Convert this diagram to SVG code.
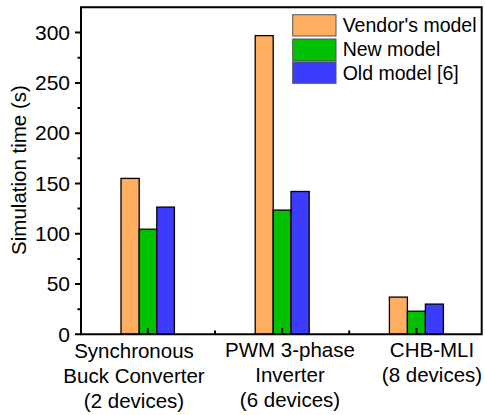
<svg xmlns="http://www.w3.org/2000/svg" width="485" height="415" viewBox="0 0 485 415">
<style>
text{font-family:"Liberation Sans",Arial,sans-serif;fill:#000}
.t{font-size:20.5px}
.tick{font-size:21px;text-anchor:end}
.lab{font-size:20.5px;text-anchor:middle}
.leg{font-size:19.5px}
.bar{stroke:#000;stroke-width:1.3}
.o{fill:#FFAD60}.g{fill:#00C000}.b{fill:#3C3CFF}
.ax{stroke:#000;stroke-width:2;fill:none}
.tk{stroke:#000;stroke-width:2}
.sw{stroke:#555;stroke-width:1}
</style>
<rect width="485" height="415" fill="#fff"/>
<g id="bars">
<rect class="bar o" x="121" y="178.4" width="18.2" height="155.9"/>
<rect class="bar g" x="139.2" y="229.2" width="17.6" height="105.1"/>
<rect class="bar b" x="156.8" y="207.1" width="17.6" height="127.2"/>
<rect class="bar o" x="255.2" y="35.6" width="18" height="298.7"/>
<rect class="bar g" x="273.2" y="210.1" width="17.8" height="124.2"/>
<rect class="bar b" x="291" y="191.5" width="18.2" height="142.8"/>
<rect class="bar o" x="389.4" y="297.1" width="18" height="37.2"/>
<rect class="bar g" x="407.4" y="311.2" width="18" height="23.1"/>
<rect class="bar b" x="425.4" y="304.1" width="18" height="30.2"/>
</g>
<g id="axes">
<path class="ax" d="M81,7.3 H481.7 V334.3 H81 Z"/>
<path class="tk" d="M75,334.3H81M75,284H81M75,233.7H81M75,183.4H81M75,133.2H81M75,82.9H81M75,32.6H81"/>
<path class="tk" d="M77.5,309.2H81M77.5,258.9H81M77.5,208.6H81M77.5,158.3H81M77.5,108H81M77.5,57.7H81"/>
<path class="tk" d="M147.8,334.3V328M282.1,334.3V328M416.4,334.3V328M215,334.3V330.5M349.2,334.3V330.5"/>
</g>
<g id="ticklabels">
<text class="tick" x="70" y="341.5">0</text>
<text class="tick" x="70" y="291.2">50</text>
<text class="tick" x="70" y="240.9">100</text>
<text class="tick" x="70" y="190.6">150</text>
<text class="tick" x="70" y="140.4">200</text>
<text class="tick" x="70" y="90.1">250</text>
<text class="tick" x="70" y="39.8">300</text>
</g>
<text class="lab" transform="translate(26,170) rotate(-90)">Simulation time (s)</text>
<g id="xlabels">
<text class="lab" x="134" y="358">Synchronous</text>
<text class="lab" x="134" y="383">Buck Converter</text>
<text class="lab" x="134" y="407.5">(2 devices)</text>
<text class="lab" x="290" y="357">PWM 3-phase</text>
<text class="lab" x="290" y="382">Inverter</text>
<text class="lab" x="290" y="406.5">(6 devices)</text>
<text class="lab" x="432" y="357">CHB-MLI</text>
<text class="lab" x="432" y="382">(8 devices)</text>
</g>
<g id="legend">
<rect class="sw o" x="292.7" y="14.7" width="43.3" height="21.3"/>
<rect class="sw g" x="292.7" y="39" width="43.3" height="22"/>
<rect class="sw b" x="292.7" y="62" width="43.3" height="21.3"/>
<text class="leg" x="342.7" y="32.3">Vendor's model</text>
<text class="leg" x="342.7" y="55.5">New model</text>
<text class="leg" x="342.7" y="79.5">Old model [6]</text>
</g>
</svg>
